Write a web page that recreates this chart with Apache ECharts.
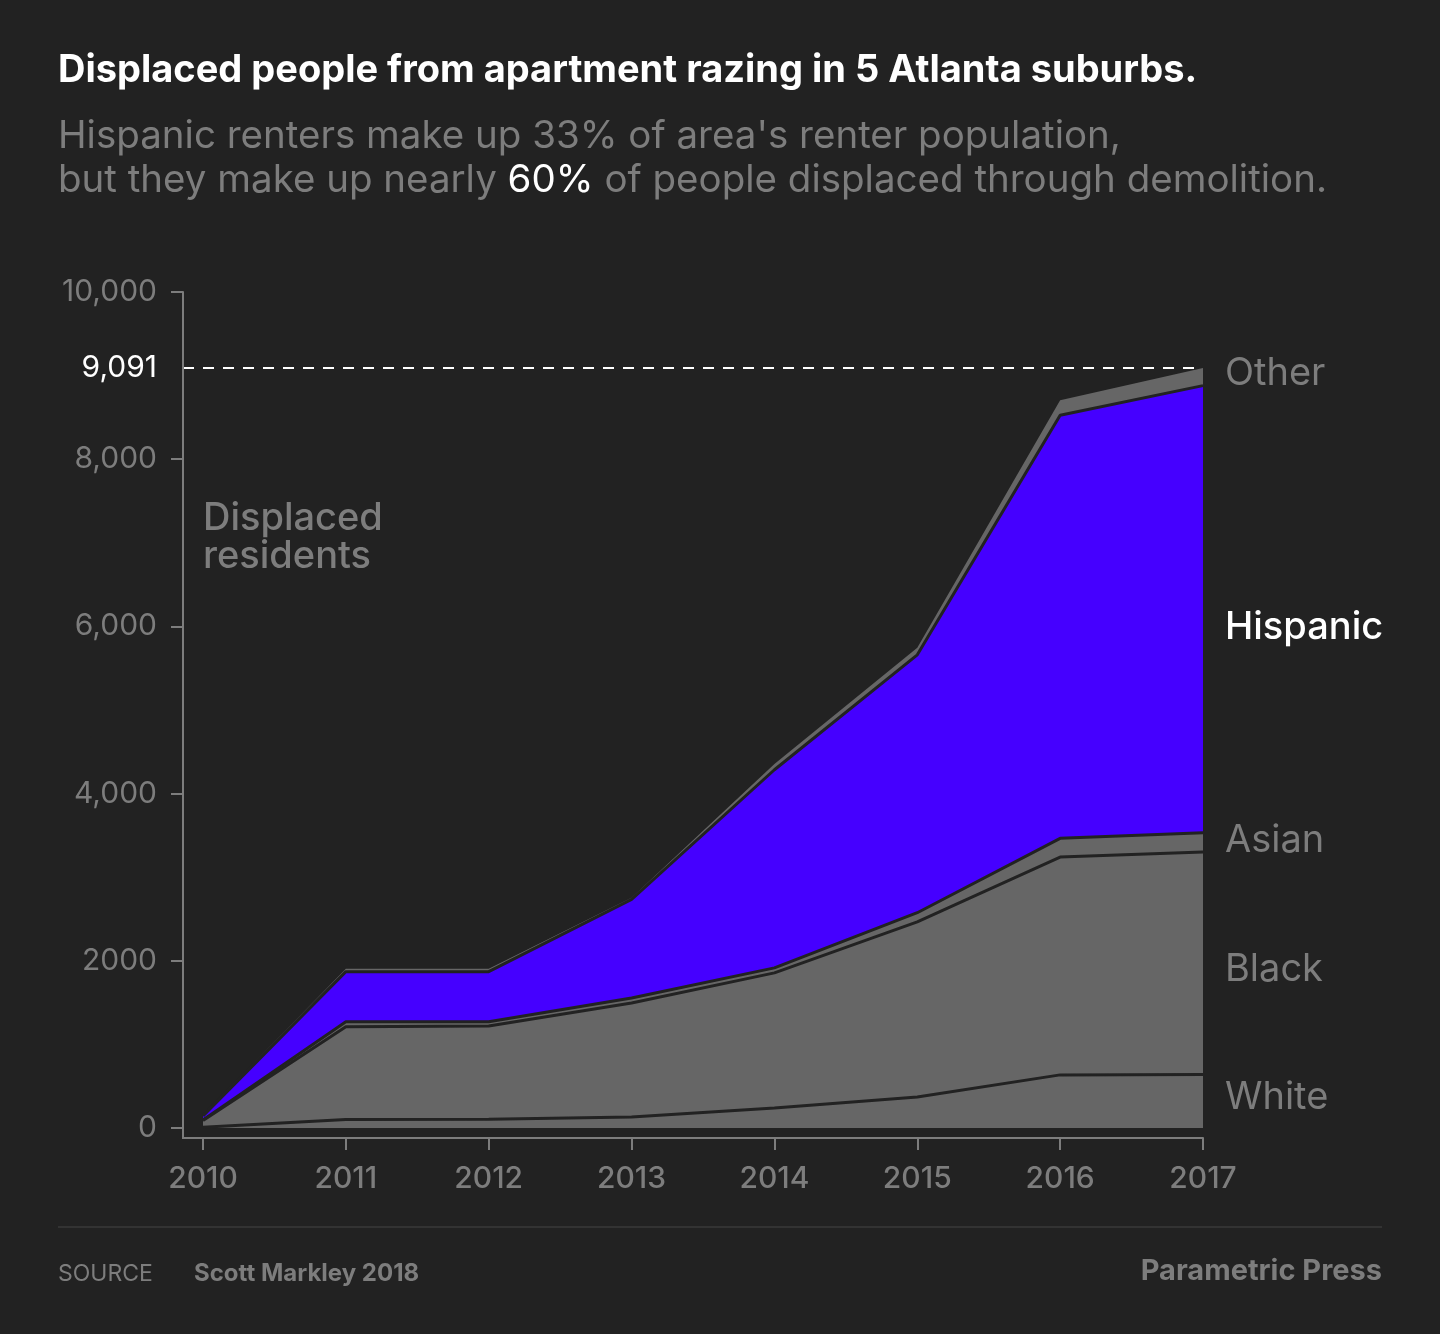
<!DOCTYPE html>
<html>
<head>
<meta charset="utf-8">
<script src="https://cdn.jsdelivr.net/npm/echarts@6/dist/echarts.min.js"></script>
<style>
  html, body { margin: 0; padding: 0; background: #222222; }
  #chart { width: 1440px; height: 1334px; }
</style>
</head>
<body>
<div id="chart"></div>
<script>
// data
const years = ['2010', '2011', '2012', '2013', '2014', '2015', '2016', '2017'];
const white = [10, 100, 105, 130, 240, 370, 635, 640];
const black = [80, 1110, 1115, 1365, 1615, 2095, 2605, 2660];
const asian = [5, 60, 50, 60, 60, 110, 225, 230];
const hispanic = [50, 600, 600, 1180, 2370, 3085, 5060, 5350];
const other = [10, 35, 35, 20, 70, 85, 180, 211];
const totalLine = 9091;
const yTicks = [0, 2000, 4000, 6000, 8000, 10000];
const yTickLabels = ['0', '2000', '4,000', '6,000', '8,000', '10,000'];

const FONT = 'Inter, "Noto Sans", sans-serif';
const GRAY = '#7d7d7d';
const FILL = '#666666';
const EDGE = '#222222';

const chart = echarts.init(document.getElementById('chart'));

function layer(name, values, fill, z, edgeWidth) {
  return {
    name: name,
    type: 'line',
    stack: 'people',
    z: z,
    symbol: 'none',
    data: values,
    lineStyle: { color: EDGE, width: edgeWidth },
    areaStyle: { color: fill, opacity: 1 },
    itemStyle: { color: fill },
    emphasis: { disabled: true }
  };
}

const otherSeries = layer('Other', other, FILL, 2, 0);
otherSeries.markLine = {
  silent: true,
  symbol: 'none',
  label: { show: false },
  lineStyle: { color: '#ffffff', type: [11, 9], width: 2 },
  data: [{ yAxis: totalLine }]
};

let option = {
  backgroundColor: '#222222',
  animation: false,
  textStyle: { fontFamily: FONT },
  grid: { left: 203, right: 237, top: 292, bottom: 196 },
  xAxis: {
    type: 'category',
    boundaryGap: false,
    data: years,
    axisLine: { onZero: false, lineStyle: { color: GRAY, width: 2 } },
    axisTick: { show: true, length: 12, interval: 0, lineStyle: { color: GRAY, width: 2 } },
    axisLabel: { color: GRAY, fontSize: 30, fontWeight: 500, fontFamily: FONT, margin: 26, interval: 0 },
    splitLine: { show: false }
  },
  yAxis: {
    type: 'value',
    min: -120,
    max: 10000,
    offset: 20,
    axisLine: { show: true, lineStyle: { color: GRAY, width: 2 } },
    axisTick: { show: true, length: 12, lineStyle: { color: GRAY, width: 2 }, customValues: yTicks },
    axisLabel: {
      customValues: yTicks.concat([totalLine]),
      color: GRAY,
      fontSize: 30,
      fontFamily: FONT,
      margin: 26,
      formatter: function (v) {
        if (v === totalLine) return '{hi|9,091}';
        const i = yTicks.indexOf(v);
        return i >= 0 ? yTickLabels[i] : '';
      },
      rich: { hi: { color: '#ffffff', fontSize: 30, fontFamily: FONT } }
    },
    splitLine: { show: false }
  },
  series: [
    layer('White', white, FILL, 6, 3),
    layer('Black', black, FILL, 5, 3),
    layer('Asian', asian, FILL, 4, 3),
    layer('Hispanic', hispanic, '#4500ff', 3, 3),
    otherSeries
  ],
  graphic: [
    // x axis line continues left to meet the offset y axis
    { type: 'rect', shape: { x: 182, y: 1137, width: 22, height: 2 }, style: { fill: GRAY } },
    // dashed total line also starts at the y axis
    { type: 'line', shape: { x1: 183, y1: 368, x2: 203, y2: 368 }, style: { stroke: '#ffffff', lineWidth: 2, lineDash: [11, 9] } },
    { type: 'text', left: 58, top: 52, style: { text: 'Displaced people from apartment razing in 5 Atlanta suburbs.', fill: '#ffffff', font: 'bold 38px ' + FONT } },
    {
      type: 'text', left: 58, top: 114,
      style: {
        text: "Hispanic renters make up 33% of area's renter population,\nbut they make up nearly {w|60%} of people displaced through demolition.",
        fill: GRAY, font: '38.5px ' + FONT, lineHeight: 44,
        rich: { w: { fill: '#ffffff', font: '38.5px ' + FONT } }
      }
    },
    { type: 'text', left: 203, top: 500, style: { text: 'Displaced\nresidents', fill: GRAY, font: '500 38px ' + FONT, lineHeight: 38 } },
    { type: 'text', left: 1225, top: 355, style: { text: 'Other', fill: GRAY, font: '38px ' + FONT } },
    { type: 'text', left: 1225, top: 609, style: { text: 'Hispanic', fill: '#ffffff', font: '500 38px ' + FONT } },
    { type: 'text', left: 1225, top: 822, style: { text: 'Asian', fill: GRAY, font: '38px ' + FONT } },
    { type: 'text', left: 1225, top: 951, style: { text: 'Black', fill: GRAY, font: '38px ' + FONT } },
    { type: 'text', left: 1225, top: 1079, style: { text: 'White', fill: GRAY, font: '38px ' + FONT } },
    { type: 'rect', shape: { x: 58, y: 1226, width: 1324, height: 2 }, style: { fill: '#333333' } },
    { type: 'text', left: 58, top: 1263, style: { text: 'SOURCE', fill: GRAY, font: '23px ' + FONT } },
    { type: 'text', left: 194, top: 1262, style: { text: 'Scott Markley 2018', fill: GRAY, font: 'bold 24px ' + FONT } },
    { type: 'text', right: 58, top: 1257, style: { text: 'Parametric Press', fill: GRAY, font: 'bold 29px ' + FONT } }
  ]
};

chart.setOption(option);
</script>
</body>
</html>
